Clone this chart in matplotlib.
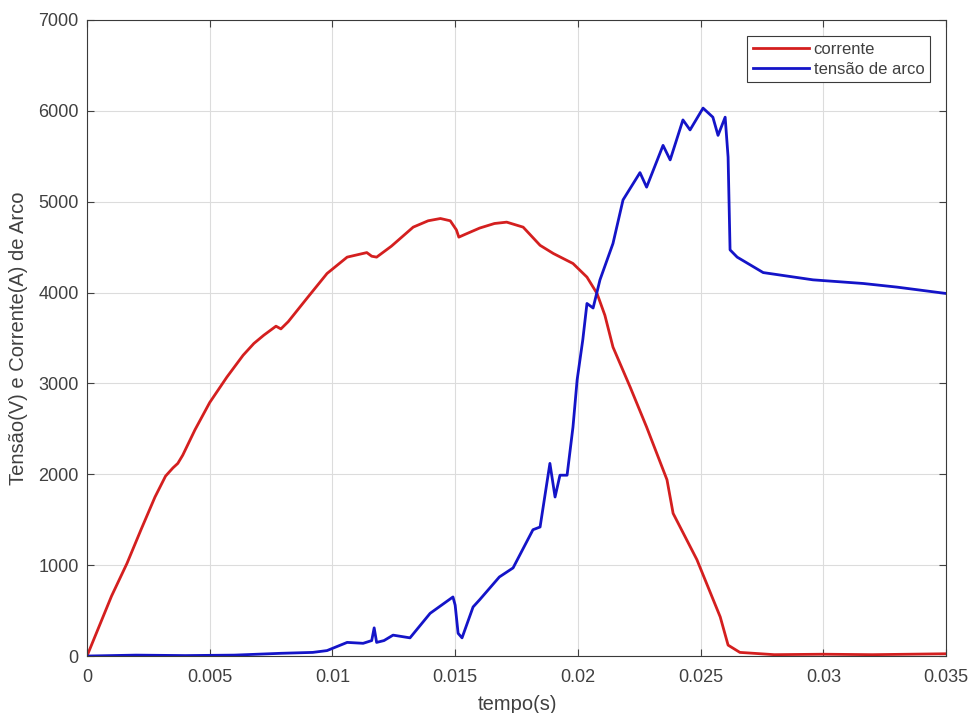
import numpy as np
import matplotlib
matplotlib.use('Agg')
import matplotlib.pyplot as plt

# --- Data ---
t_corrente = [0.0, 0.0005, 0.001, 0.00163, 0.0022, 0.00277, 0.0032, 0.0035, 0.0037,
              0.0039, 0.0044, 0.005, 0.0057, 0.00636, 0.0068, 0.0072, 0.0077, 0.0079,
              0.0082, 0.009, 0.00978, 0.0106, 0.0114, 0.0116, 0.0118, 0.0124, 0.01329,
              0.0139, 0.0144, 0.0148, 0.01505, 0.01515, 0.0154, 0.016, 0.0166, 0.0171,
              0.01777, 0.01846, 0.019, 0.0198, 0.02037, 0.02078, 0.0211, 0.02143,
              0.02213, 0.0228, 0.02363, 0.02388, 0.02485, 0.0258, 0.02612, 0.0266,
              0.028, 0.03, 0.032, 0.035]
corrente = [0, 330, 660, 1020, 1390, 1750, 1980, 2070, 2120,
            2210, 2490, 2790, 3070, 3310, 3440, 3530, 3630, 3600,
            3680, 3950, 4210, 4390, 4440, 4400, 4390, 4510, 4720,
            4790, 4815, 4790, 4690, 4610, 4640, 4710, 4760, 4775,
            4720, 4520, 4430, 4320, 4170, 3990, 3750, 3400,
            2960, 2520, 1940, 1570, 1060, 430, 120, 40,
            15, 20, 15, 25]

t_arco = [0.0, 0.002, 0.004, 0.006, 0.0079, 0.0092, 0.00978, 0.0106, 0.01125,
          0.0116, 0.0117, 0.0118, 0.0121, 0.01247, 0.01316, 0.01398, 0.01491,
          0.015, 0.01512, 0.01528, 0.01573, 0.016, 0.0168, 0.01736, 0.01817,
          0.01846, 0.01886, 0.01907, 0.01927, 0.01956, 0.0198, 0.01997, 0.0202,
          0.02037, 0.02062, 0.0209, 0.02143, 0.02184, 0.02253, 0.0228, 0.02347,
          0.02376, 0.02428, 0.02457, 0.0251, 0.0255, 0.02571, 0.026, 0.02612,
          0.0262, 0.02649, 0.02755, 0.02958, 0.03162, 0.033, 0.035]
arco = [0, 10, 5, 10, 30, 40, 60, 150, 140,
        170, 310, 150, 170, 230, 200, 470, 650,
        560, 250, 200, 540, 620, 870, 970, 1390,
        1420, 2120, 1750, 1990, 1990, 2520, 3040, 3480,
        3880, 3830, 4140, 4540, 5020, 5320, 5160, 5620,
        5460, 5900, 5790, 6030, 5930, 5730, 5930, 5490,
        4470, 4390, 4220, 4140, 4100, 4060, 3990]

plt.rcParams['font.family'] = ['Liberation Sans', 'DejaVu Sans']

fig = plt.figure(figsize=(9.72, 7.13), dpi=100)
ax = fig.add_axes([0.0895, 0.0799, 0.8838, 0.8921])

ax.plot(t_corrente, corrente, color='#d41f1f', lw=2.0, label='corrente')
ax.plot(t_arco, arco, color='#1414c8', lw=2.0, label='tensão de arco')

ax.set_xlim(0, 0.035)
ax.set_ylim(0, 7000)
ax.set_xticks(np.arange(0, 0.0351, 0.005))
ax.set_xticklabels(['0', '0.005', '0.01', '0.015', '0.02', '0.025', '0.03', '0.035'])
ax.set_yticks(np.arange(0, 7001, 1000))
ax.tick_params(direction='in', top=True, right=True, labelsize=13, colors='#404040',
               length=5)
ax.tick_params(axis='x', pad=9)
ax.tick_params(axis='y', pad=6)
ax.grid(True, color='#dcdcdc', lw=0.8)
for s in ax.spines.values():
    s.set_color('#3a3a3a')
    s.set_linewidth(0.8)

ax.set_xlabel('tempo(s)', fontsize=14.5, color='#404040')
ax.xaxis.set_label_coords(0.5006, -0.061)
ax.set_ylabel('Tensão(V) e Corrente(A) de Arco', fontsize=14.5, color='#404040')
ax.yaxis.set_label_coords(-0.069, 0.5)

leg = ax.legend(loc='upper right', fontsize=12, fancybox=False, framealpha=1,
                edgecolor='#3a3a3a', borderaxespad=0.95, handlelength=3.4,
                handletextpad=0.25, borderpad=0.35, labelspacing=0.3)
leg.get_frame().set_linewidth(0.8)
for txt in leg.get_texts():
    txt.set_color('#404040')

fig.savefig('out.png', dpi=100)
